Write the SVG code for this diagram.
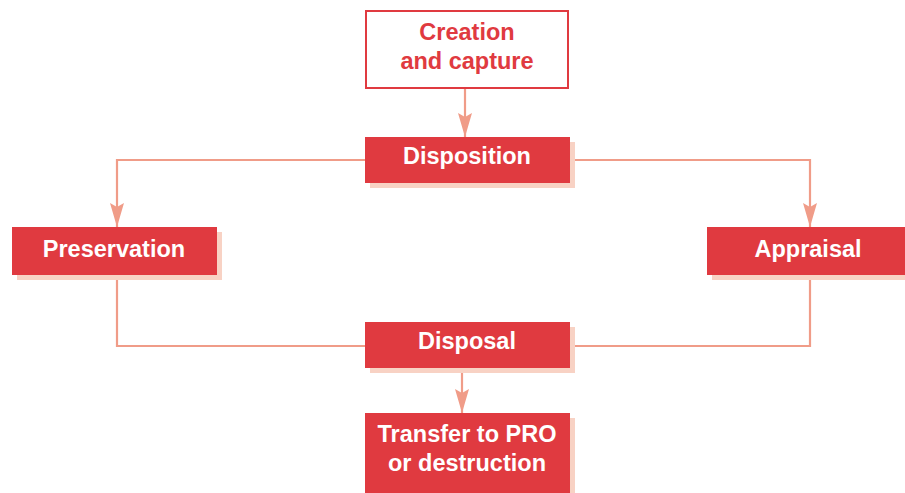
<svg xmlns="http://www.w3.org/2000/svg" width="905" height="493" viewBox="0 0 905 493">
<defs>
<style>
.box{fill:#e03a40}
.shadow{fill:#f8d2c4}
.wt{fill:#fff;font-family:"Liberation Sans",Arial,sans-serif;font-weight:bold;font-size:23.5px;text-anchor:middle}
.rt{fill:#e03a40;font-family:"Liberation Sans",Arial,sans-serif;font-weight:bold;font-size:23.5px;text-anchor:middle}
.ln{fill:none;stroke:#f09c88;stroke-width:2.2}
</style>
<marker id="ah" viewBox="0 0 24 14" markerWidth="24" markerHeight="14" refX="24" refY="7" orient="auto" markerUnits="userSpaceOnUse">
<path d="M0,0 L4,7 L0,14 L24,7 Z" fill="#f09c88"/>
</marker>
</defs>
<g id="connectors">
<path class="ln" d="M465,89 V137" marker-end="url(#ah)"/>
<path class="ln" d="M365,160 H117 V227" marker-end="url(#ah)"/>
<path class="ln" d="M570,160 H810 V227" marker-end="url(#ah)"/>
<path class="ln" d="M117,276 V346 H365"/>
<path class="ln" d="M810,276 V346 H570"/>
<path class="ln" d="M462,369 V413" marker-end="url(#ah)"/>
</g>
<g id="creation">
<rect x="366" y="11" width="202" height="77" fill="#fff" stroke="#e03a40" stroke-width="2"/>
<text class="rt" x="467" y="40">Creation</text>
<text class="rt" x="467" y="69">and capture</text>
</g>
<g id="disposition">
<rect class="shadow" x="370" y="142" width="205" height="46"/>
<rect class="box" x="365" y="137" width="205" height="46"/>
<text class="wt" x="467" y="164">Disposition</text>
</g>
<g id="preservation">
<rect class="shadow" x="17" y="232" width="205" height="48"/>
<rect class="box" x="12" y="227" width="205" height="48"/>
<text class="wt" x="114" y="257">Preservation</text>
</g>
<g id="appraisal">
<rect class="shadow" x="712" y="232" width="200" height="48"/>
<rect class="box" x="707" y="227" width="200" height="48"/>
<text class="wt" x="808" y="257">Appraisal</text>
</g>
<g id="disposal">
<rect class="shadow" x="370" y="327" width="205" height="46"/>
<rect class="box" x="365" y="322" width="205" height="46"/>
<text class="wt" x="467" y="349">Disposal</text>
</g>
<g id="transfer">
<rect class="shadow" x="370" y="418" width="205" height="80"/>
<rect class="box" x="365" y="413" width="205" height="80"/>
<text class="wt" x="467" y="442">Transfer to PRO</text>
<text class="wt" x="467" y="471">or destruction</text>
</g>
</svg>
